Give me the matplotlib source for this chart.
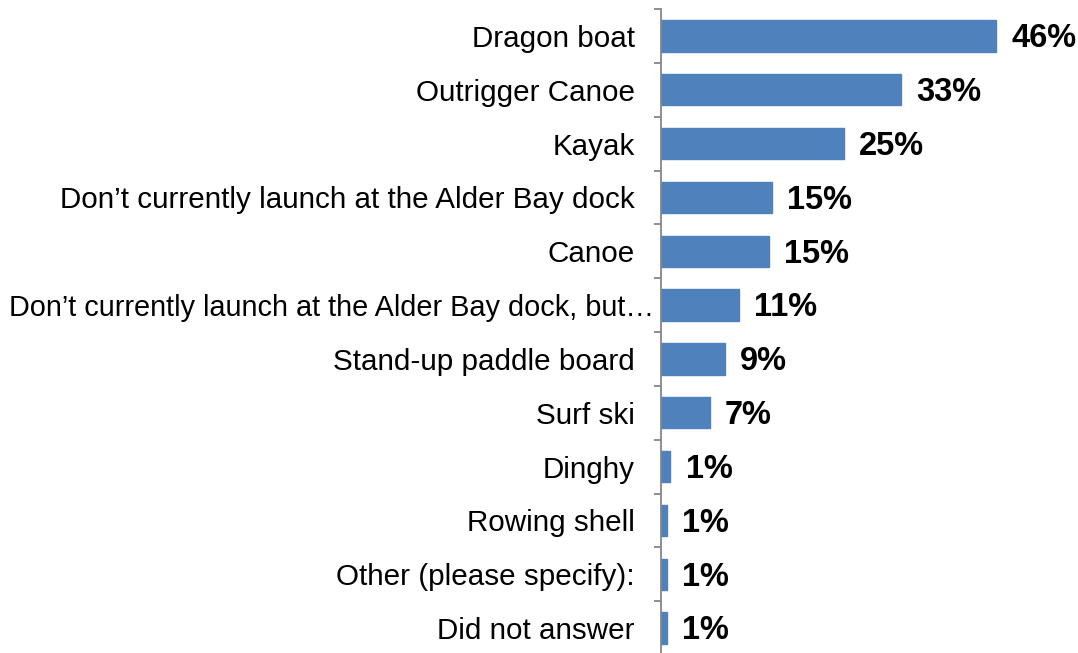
import matplotlib
matplotlib.use("Agg")
import matplotlib.pyplot as plt
import matplotlib.transforms as mtransforms
import numpy as np

plt.rcParams['font.family'] = ['Liberation Sans', 'DejaVu Sans']

categories = ['Dragon boat', 'Outrigger Canoe', 'Kayak',
              'Don\u2019t currently launch at the Alder Bay dock', 'Canoe',
              'Don\u2019t currently launch at the Alder Bay dock, but\u2026',
              'Stand-up paddle board', 'Surf ski', 'Dinghy', 'Rowing shell',
              'Other (please specify):', 'Did not answer']
values = [46.0, 33.0, 25.1, 15.2, 14.8, 10.7, 8.8, 6.7, 1.3, 0.8, 0.8, 0.8]
value_labels = ['46%', '33%', '25%', '15%', '15%', '11%', '9%', '7%',
                '1%', '1%', '1%', '1%']

fig = plt.figure(figsize=(10.78, 6.53), dpi=100)
ax = fig.add_axes([661/1078, (653-655)/653, 417/1078, 646/653])

y = np.arange(len(categories))
ax.barh(y, values, height=0.58, color='#4F81BD', edgecolor='#4F81BD')
ax.set_ylim(len(categories) - 0.5, -0.5)
ax.set_xlim(0, 417/7.28)

# value labels, bold, a little right of each bar
for yi, v, lab in zip(y, values, value_labels):
    ax.annotate(lab, (v, yi), xytext=(11, -2), textcoords='offset points',
                va='center', ha='left', fontsize=23.5, fontweight='bold')

ax.set_yticks(y)
ax.set_yticklabels(categories, fontsize=21.3)
ax.set_yticks(np.arange(len(categories) + 1) - 0.5, minor=True)
ax.tick_params(axis='y', which='major', length=0, pad=19)
ax.tick_params(axis='y', which='minor', length=5, width=1.3, color='#868686')
ax.set_xticks([])

# the truncated label sits right up against the axis in the original
lbl = ax.get_yticklabels()[5]
lbl.set_fontsize(20.8)
lbl.set_transform(lbl.get_transform() +
                  mtransforms.ScaledTranslation(0.2, 0, fig.dpi_scale_trans))

for s in ['top', 'right', 'bottom']:
    ax.spines[s].set_visible(False)
ax.spines['left'].set_color('#868686')
ax.spines['left'].set_linewidth(1.3)

fig.savefig('out.png', dpi=100)
